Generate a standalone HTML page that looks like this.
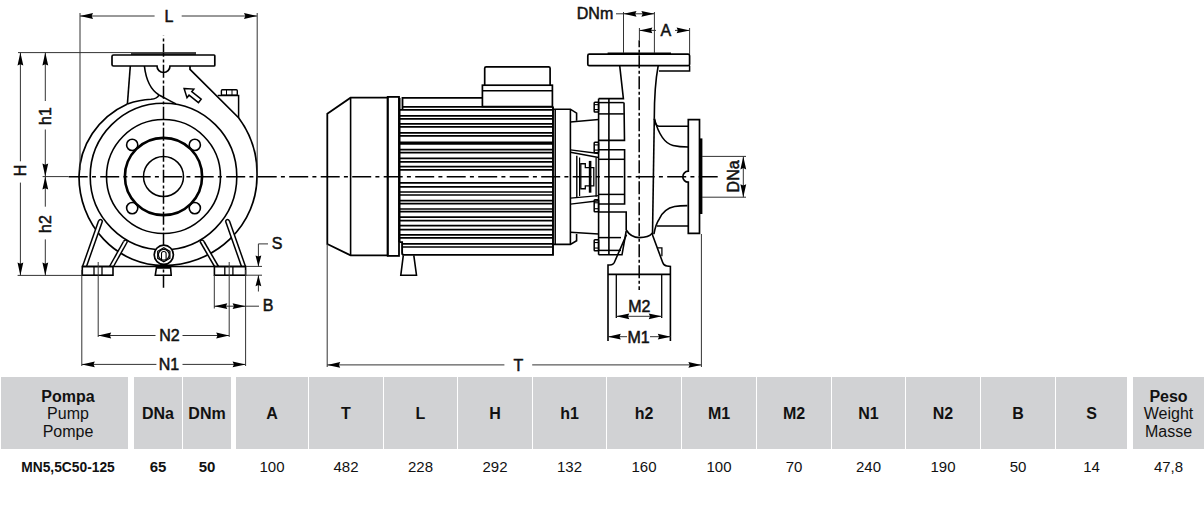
<!DOCTYPE html>
<html><head><meta charset="utf-8"><style>
html,body{margin:0;padding:0;background:#fff;}
body{width:1204px;height:529px;position:relative;overflow:hidden;font-family:"Liberation Sans",sans-serif;}
svg{position:absolute;left:0;top:0;}
svg text{font-family:"Liberation Sans",sans-serif;}
.hc{position:absolute;top:377px;height:72px;background:#d1d2d4;}
.ht{position:absolute;top:378px;height:72px;line-height:72px;text-align:center;font-weight:bold;font-size:16px;color:#111;}
.ht3{position:absolute;top:387.7px;text-align:center;font-size:16px;line-height:17.7px;color:#111;}
.vt{position:absolute;top:456.5px;height:20px;line-height:20px;text-align:center;font-size:15px;color:#111;}
.vt.b{font-weight:bold;}
.vt.sm{font-size:13.8px;top:457.5px;}
</style></head><body>
<svg width="1204" height="529" viewBox="0 0 1204 529">
<line x1="68.7" y1="176.7" x2="719.5" y2="176.7" stroke="#000" stroke-width="1.6" stroke-dasharray="19 4.2 4 4.3"/>
<line x1="163.5" y1="35.6" x2="163.5" y2="288" stroke="#000" stroke-width="1.5" stroke-dasharray="13 2.6 3 2.4" stroke-dashoffset="12.8"/>
<line x1="639.2" y1="40.2" x2="639.2" y2="290" stroke="#000" stroke-width="1.5" stroke-dasharray="13 2.6 3 2.4" stroke-dashoffset="6"/>
<circle cx="163.5" cy="176.5" r="20" stroke="#000" stroke-width="1.5" fill="none"/>
<circle cx="163.5" cy="176.5" r="38.6" stroke="#000" stroke-width="2.6" fill="none"/>
<circle cx="163.5" cy="176.5" r="57" stroke="#000" stroke-width="1.6" fill="none"/>
<circle cx="163.5" cy="176.5" r="73.3" stroke="#000" stroke-width="1.6" fill="none"/>
<circle cx="132.2" cy="144.9" r="5.6" stroke="#000" stroke-width="1.6" fill="none"/>
<circle cx="132.2" cy="208.1" r="5.6" stroke="#000" stroke-width="1.6" fill="none"/>
<circle cx="194.8" cy="144.9" r="5.6" stroke="#000" stroke-width="1.6" fill="none"/>
<circle cx="194.8" cy="208.1" r="5.6" stroke="#000" stroke-width="1.6" fill="none"/>
<path d="M127.4,104 A84.5,81 0 0 0 79,176.5 A84.5,89 0 0 0 163.5,265.5 A93.5,89 0 0 0 257,176.5 A93.5,93.5 0 0 0 238.6,117.7 L190,69.3 L190,66" stroke="#000" stroke-width="1.7" fill="none" />
<line x1="130.3" y1="66" x2="127.4" y2="104" stroke="#000" stroke-width="1.6" />
<path d="M113.5,55 H214 Q214.8,55 214.8,55.8 V65.2 Q214.8,66 214,66 H170 A6.5,6.5 0 0 1 157,66 H113.5 Q112,66 112,64.5 V56.5 Q112,55 113.5,55 Z" stroke="#000" stroke-width="1.7" fill="none" />
<path d="M144.4,66 C146,80 151,90 159,95" stroke="#000" stroke-width="1.6" fill="none" />
<path d="M127.4,104 C136,101 146,99.5 151,99.3 C155,99 158,97 159,95" stroke="#000" stroke-width="1.6" fill="none" />
<path d="M159,95 C165,98 170,101 176,103.9" stroke="#000" stroke-width="1.6" fill="none" />
<polygon points="184.10,88.50 193.79,89.11 191.75,91.71 201.19,99.12 198.47,102.58 189.03,95.17 187.00,97.77" fill="#fff" stroke="#000" stroke-width="1.5"/>
<path d="M217.7,95.6 L238.6,95.6 L238.6,117.7" stroke="#000" stroke-width="1.5" fill="none" />
<rect x="221.4" y="89.8" width="15.9" height="5.5" rx="1" stroke="#000" stroke-width="1.4" fill="none"/>
<line x1="226.5" y1="89.8" x2="226.5" y2="95.3" stroke="#000" stroke-width="1.0" />
<line x1="232" y1="89.8" x2="232" y2="95.3" stroke="#000" stroke-width="1.0" />
<path d="M82.5,267.5 L98.5,221 Q100.5,218 102.5,221 L86.5,267.5 Z" fill="#fff" stroke="none"/>
<path d="M82.5,266.5 L98.5,221 " stroke="#000" stroke-width="1.5" fill="none" />
<path d="M86.5,266.5 L102.5,221" stroke="#000" stroke-width="1.5" fill="none" />
<path d="M98.5,221 Q100.5,218 102.5,221" stroke="#000" stroke-width="1.5" fill="none" />
<path d="M109.5,267.5 L123.5,241.5 Q125.5,238.5 127.5,241.5 L113.5,267.5 Z" fill="#fff" stroke="none"/>
<path d="M109.5,266.5 L123.5,241.5 " stroke="#000" stroke-width="1.5" fill="none" />
<path d="M113.5,266.5 L127.5,241.5" stroke="#000" stroke-width="1.5" fill="none" />
<path d="M123.5,241.5 Q125.5,238.5 127.5,241.5" stroke="#000" stroke-width="1.5" fill="none" />
<path d="M245.5,267.5 L229.5,221 Q227.5,218 225.5,221 L241.5,267.5 Z" fill="#fff" stroke="none"/>
<path d="M245.5,266.5 L229.5,221 " stroke="#000" stroke-width="1.5" fill="none" />
<path d="M241.5,266.5 L225.5,221" stroke="#000" stroke-width="1.5" fill="none" />
<path d="M229.5,221 Q227.5,218 225.5,221" stroke="#000" stroke-width="1.5" fill="none" />
<path d="M218.5,267.5 L204.0,241.5 Q202.0,238.5 200.0,241.5 L214.5,267.5 Z" fill="#fff" stroke="none"/>
<path d="M218.5,266.5 L204.0,241.5 " stroke="#000" stroke-width="1.5" fill="none" />
<path d="M214.5,266.5 L200.0,241.5" stroke="#000" stroke-width="1.5" fill="none" />
<path d="M204.0,241.5 Q202.0,238.5 200.0,241.5" stroke="#000" stroke-width="1.5" fill="none" />
<line x1="82" y1="266.5" x2="246" y2="266.5" stroke="#000" stroke-width="1.6" />
<rect x="82.3" y="266.5" width="30.7" height="8.7" rx="0" stroke="#000" stroke-width="1.6" fill="none"/>
<rect x="214.4" y="266.5" width="31.2" height="8.7" rx="0" stroke="#000" stroke-width="1.6" fill="none"/>
<line x1="94" y1="266.5" x2="94" y2="275.2" stroke="#000" stroke-width="1.3" />
<line x1="102" y1="266.5" x2="102" y2="275.2" stroke="#000" stroke-width="1.3" />
<line x1="224.8" y1="266.5" x2="224.8" y2="275.2" stroke="#000" stroke-width="1.3" />
<line x1="232.9" y1="266.5" x2="232.9" y2="275.2" stroke="#000" stroke-width="1.3" />
<circle cx="163.8" cy="254.8" r="9.6" stroke="#000" stroke-width="1.7" fill="#fff"/>
<polygon points="169.86,258.30 163.80,261.80 157.74,258.30 157.74,251.30 163.80,247.80 169.86,251.30" fill="none" stroke="#000" stroke-width="1.3"/>
<circle cx="163.8" cy="254.8" r="5.4" stroke="#000" stroke-width="1.2" fill="none"/>
<path d="M161.5,260.5 L161.5,253.5 Q161.5,251.5 163.8,251.5 Q166.1,251.5 166.1,253.5 L166.1,260.5" stroke="#000" stroke-width="1.1" fill="none" />
<path d="M156.4,267.9 L170.6,267.9 L171.2,275.2 L155.3,275.2 Z" stroke="#000" stroke-width="1.6" fill="none" />
<line x1="80" y1="16" x2="154.6" y2="16" stroke="#333" stroke-width="1" />
<line x1="181.7" y1="16" x2="257" y2="16" stroke="#333" stroke-width="1" />
<path d="M80.00,16.00 L93.00,13.10 L91.70,16.00 L93.00,18.90 Z" fill="#000" stroke="none"/>
<path d="M257.00,16.00 L244.00,18.90 L245.30,16.00 L244.00,13.10 Z" fill="#000" stroke="none"/>
<line x1="80" y1="13" x2="80" y2="170" stroke="#333" stroke-width="1" />
<line x1="257.2" y1="13" x2="257.2" y2="176" stroke="#333" stroke-width="1" />
<text x="169" y="21.6" font-size="16" font-weight="normal" text-anchor="middle" fill="#111" stroke="#111" stroke-width="0.5">L</text>
<line x1="18" y1="52.6" x2="196" y2="52.6" stroke="#333" stroke-width="1" />
<line x1="131" y1="54" x2="196" y2="54" stroke="#000" stroke-width="1.6" />
<line x1="17.6" y1="275.4" x2="82" y2="275.4" stroke="#333" stroke-width="1" />
<line x1="42.6" y1="176.6" x2="68.7" y2="176.6" stroke="#333" stroke-width="1" />
<line x1="20.4" y1="52.6" x2="20.4" y2="161.3" stroke="#333" stroke-width="1" />
<line x1="20.4" y1="182.6" x2="20.4" y2="275.4" stroke="#333" stroke-width="1" />
<path d="M20.40,52.60 L23.30,65.60 L20.40,64.30 L17.50,65.60 Z" fill="#000" stroke="none"/>
<path d="M20.40,275.40 L17.50,262.40 L20.40,263.70 L23.30,262.40 Z" fill="#000" stroke="none"/>
<text x="25.9" y="170.5" font-size="16" font-weight="normal" text-anchor="middle" fill="#111" stroke="#111" stroke-width="0.5" transform="rotate(-90 25.9 170.5)">H</text>
<line x1="45.3" y1="52.6" x2="45.3" y2="101" stroke="#333" stroke-width="1" />
<line x1="45.3" y1="129.5" x2="45.3" y2="176.5" stroke="#333" stroke-width="1" />
<path d="M45.30,52.60 L48.20,65.60 L45.30,64.30 L42.40,65.60 Z" fill="#000" stroke="none"/>
<path d="M45.30,176.50 L42.40,163.50 L45.30,164.80 L48.20,163.50 Z" fill="#000" stroke="none"/>
<text x="50.8" y="116" font-size="16" font-weight="normal" text-anchor="middle" fill="#111" stroke="#111" stroke-width="0.5" transform="rotate(-90 50.8 116)">h1</text>
<line x1="45.3" y1="176.5" x2="45.3" y2="206.7" stroke="#333" stroke-width="1" />
<line x1="45.3" y1="239.4" x2="45.3" y2="275.4" stroke="#333" stroke-width="1" />
<path d="M45.30,176.50 L48.20,189.50 L45.30,188.20 L42.40,189.50 Z" fill="#000" stroke="none"/>
<path d="M45.30,275.40 L42.40,262.40 L45.30,263.70 L48.20,262.40 Z" fill="#000" stroke="none"/>
<text x="50.8" y="224" font-size="16" font-weight="normal" text-anchor="middle" fill="#111" stroke="#111" stroke-width="0.5" transform="rotate(-90 50.8 224)">h2</text>
<line x1="81.8" y1="270" x2="81.8" y2="366" stroke="#333" stroke-width="1" />
<line x1="245.6" y1="270" x2="245.6" y2="366" stroke="#333" stroke-width="1" />
<line x1="81.8" y1="364.4" x2="156.4" y2="364.4" stroke="#333" stroke-width="1" />
<line x1="182.5" y1="364.4" x2="245.6" y2="364.4" stroke="#333" stroke-width="1" />
<path d="M81.80,364.40 L94.80,361.50 L93.50,364.40 L94.80,367.30 Z" fill="#000" stroke="none"/>
<path d="M245.60,364.40 L232.60,367.30 L233.90,364.40 L232.60,361.50 Z" fill="#000" stroke="none"/>
<text x="169" y="369.6" font-size="16" font-weight="normal" text-anchor="middle" fill="#111" stroke="#111" stroke-width="0.5">N1</text>
<line x1="98.2" y1="262" x2="98.2" y2="337" stroke="#333" stroke-width="1" />
<line x1="229.2" y1="262" x2="229.2" y2="337" stroke="#333" stroke-width="1" />
<line x1="98.2" y1="335.5" x2="155.5" y2="335.5" stroke="#333" stroke-width="1" />
<line x1="182.5" y1="335.5" x2="229.2" y2="335.5" stroke="#333" stroke-width="1" />
<path d="M98.20,335.50 L111.20,332.60 L109.90,335.50 L111.20,338.40 Z" fill="#000" stroke="none"/>
<path d="M229.20,335.50 L216.20,338.40 L217.50,335.50 L216.20,332.60 Z" fill="#000" stroke="none"/>
<text x="169.5" y="341" font-size="16" font-weight="normal" text-anchor="middle" fill="#111" stroke="#111" stroke-width="0.5">N2</text>
<line x1="214.3" y1="275" x2="214.3" y2="308.5" stroke="#333" stroke-width="1" />
<line x1="214.3" y1="306.2" x2="259" y2="306.2" stroke="#333" stroke-width="1" />
<path d="M214.30,306.20 L227.30,303.30 L226.00,306.20 L227.30,309.10 Z" fill="#000" stroke="none"/>
<path d="M245.60,306.20 L232.60,309.10 L233.90,306.20 L232.60,303.30 Z" fill="#000" stroke="none"/>
<text x="268.2" y="311" font-size="16" font-weight="normal" text-anchor="middle" fill="#111" stroke="#111" stroke-width="0.5">B</text>
<line x1="246" y1="266.4" x2="262" y2="266.4" stroke="#333" stroke-width="1" />
<line x1="246" y1="275.2" x2="262" y2="275.2" stroke="#333" stroke-width="1" />
<line x1="258.4" y1="243.9" x2="258.4" y2="266.4" stroke="#333" stroke-width="1" />
<line x1="258.4" y1="275.2" x2="258.4" y2="291.5" stroke="#333" stroke-width="1" />
<line x1="258.4" y1="243.9" x2="268" y2="243.9" stroke="#333" stroke-width="1" />
<path d="M258.40,266.40 L255.50,255.40 L258.40,256.50 L261.30,255.40 Z" fill="#000" stroke="none"/>
<path d="M258.40,275.20 L261.30,286.20 L258.40,285.10 L255.50,286.20 Z" fill="#000" stroke="none"/>
<text x="277.2" y="248.6" font-size="16" font-weight="normal" text-anchor="middle" fill="#111" stroke="#111" stroke-width="0.5">S</text>
<path d="M327.3,244 L327.3,113.8 L350.6,97.7 L387.7,97.7 L387.7,255.4 L350.6,255.4 Z" stroke="#000" stroke-width="1.8" fill="none" />
<line x1="350.6" y1="97.7" x2="350.6" y2="255.4" stroke="#000" stroke-width="1.6" />
<rect x="387.7" y="96.9" width="11.3" height="159" rx="0" stroke="#000" stroke-width="1.8" fill="none"/>
<line x1="399.4" y1="97.9" x2="399.4" y2="242.1" stroke="#000" stroke-width="2.2" />
<path d="M399.4,242.1 H402.1 V253 Q402.1,254.9 404,254.9 H553 V106.4" stroke="#000" stroke-width="1.9" fill="none" />
<path d="M402.5,110 V97.9 H482.4" stroke="#000" stroke-width="1.8" fill="none" />
<line x1="402.5" y1="106.8" x2="553" y2="106.8" stroke="#000" stroke-width="1.7" />
<line x1="399.4" y1="109.8" x2="553" y2="109.8" stroke="#000" stroke-width="1.7" />
<line x1="399.4" y1="115.9" x2="553" y2="115.9" stroke="#000" stroke-width="1.7" />
<line x1="399.4" y1="118.9" x2="553" y2="118.9" stroke="#000" stroke-width="1.7" />
<line x1="399.4" y1="123.8" x2="553" y2="123.8" stroke="#000" stroke-width="1.7" />
<line x1="399.4" y1="126.8" x2="553" y2="126.8" stroke="#000" stroke-width="1.7" />
<line x1="399.4" y1="132.9" x2="553" y2="132.9" stroke="#000" stroke-width="1.7" />
<line x1="399.4" y1="135.9" x2="553" y2="135.9" stroke="#000" stroke-width="1.7" />
<line x1="399.4" y1="149.7" x2="553" y2="149.7" stroke="#000" stroke-width="1.7" />
<line x1="399.4" y1="152.7" x2="553" y2="152.7" stroke="#000" stroke-width="1.7" />
<line x1="399.4" y1="158.4" x2="553" y2="158.4" stroke="#000" stroke-width="1.7" />
<line x1="399.4" y1="161.8" x2="553" y2="161.8" stroke="#000" stroke-width="1.7" />
<line x1="399.4" y1="166.7" x2="553" y2="166.7" stroke="#000" stroke-width="1.7" />
<line x1="399.4" y1="169.8" x2="553" y2="169.8" stroke="#000" stroke-width="1.7" />
<line x1="399.4" y1="182.9" x2="553" y2="182.9" stroke="#000" stroke-width="1.7" />
<line x1="399.4" y1="186.9" x2="553" y2="186.9" stroke="#000" stroke-width="1.7" />
<line x1="399.4" y1="192" x2="553" y2="192" stroke="#000" stroke-width="1.7" />
<line x1="399.4" y1="195" x2="553" y2="195" stroke="#000" stroke-width="1.7" />
<line x1="399.4" y1="200.7" x2="553" y2="200.7" stroke="#000" stroke-width="1.7" />
<line x1="399.4" y1="203.7" x2="553" y2="203.7" stroke="#000" stroke-width="1.7" />
<line x1="399.4" y1="209" x2="553" y2="209" stroke="#000" stroke-width="1.7" />
<line x1="399.4" y1="211.6" x2="553" y2="211.6" stroke="#000" stroke-width="1.7" />
<line x1="399.4" y1="217.1" x2="553" y2="217.1" stroke="#000" stroke-width="1.7" />
<line x1="399.4" y1="220.6" x2="553" y2="220.6" stroke="#000" stroke-width="1.7" />
<line x1="399.4" y1="225.6" x2="553" y2="225.6" stroke="#000" stroke-width="1.7" />
<line x1="399.4" y1="229.7" x2="553" y2="229.7" stroke="#000" stroke-width="1.7" />
<line x1="399.4" y1="234.8" x2="553" y2="234.8" stroke="#000" stroke-width="1.7" />
<line x1="399.4" y1="237.9" x2="553" y2="237.9" stroke="#000" stroke-width="1.7" />
<line x1="402.1" y1="243.9" x2="553" y2="243.9" stroke="#000" stroke-width="1.7" />
<line x1="402.1" y1="247" x2="553" y2="247" stroke="#000" stroke-width="1.7" />
<line x1="399.4" y1="143.1" x2="553" y2="143.1" stroke="#000" stroke-width="3.2" />
<path d="M403.3,255.4 L400.8,275.2 L416.5,275.2 L413.8,255.4" stroke="#000" stroke-width="1.6" fill="none" />
<rect x="482.4" y="85.2" width="70" height="21.4" rx="0" stroke="#000" stroke-width="1.7" fill="none"/>
<line x1="482.4" y1="90.8" x2="552.4" y2="90.8" stroke="#000" stroke-width="1.5" />
<path d="M484.7,85.2 L484.7,68.3 Q484.7,66.8 486.2,66.8 L548.6,66.8 Q550.1,66.8 550.1,68.3 L550.1,85.2" stroke="#000" stroke-width="1.7" fill="none" />
<line x1="555.2" y1="109.2" x2="555.2" y2="244.4" stroke="#000" stroke-width="1.5" />
<path d="M553,109.2 L570.4,109.2 L576.6,113.2 L576.6,120.8 M570.4,109.2 L570.4,244.4 M576.6,234 L576.6,240.7 L570.4,244.4 L553,244.4" stroke="#000" stroke-width="1.6" fill="none" />
<line x1="570.4" y1="121.9" x2="598.6" y2="119.4" stroke="#000" stroke-width="1.5" />
<line x1="570.4" y1="149.9" x2="598.6" y2="153.5" stroke="#000" stroke-width="1.4" />
<line x1="570.4" y1="152.2" x2="598.6" y2="157.5" stroke="#000" stroke-width="1.4" />
<line x1="570.4" y1="198.1" x2="598.6" y2="195.6" stroke="#000" stroke-width="1.4" />
<line x1="570.4" y1="204.1" x2="598.6" y2="200.7" stroke="#000" stroke-width="1.4" />
<line x1="570.4" y1="232.2" x2="598.6" y2="233.9" stroke="#000" stroke-width="1.5" />
<line x1="576.8" y1="155.8" x2="576.8" y2="197.3" stroke="#000" stroke-width="1.4" />
<line x1="579.6" y1="157.5" x2="579.6" y2="196.1" stroke="#000" stroke-width="1.2" />
<path d="M580.8,163.75 H585.3 V167.7 H593.8 V185.9 H585.3 V188.75 H580.8 Z" stroke="#000" stroke-width="1.3" fill="none" />
<line x1="590.1" y1="160.9" x2="590.1" y2="192.7" stroke="#000" stroke-width="2.6" />
<line x1="596.1" y1="157.5" x2="596.1" y2="196.7" stroke="#000" stroke-width="1.3" />
<line x1="598.6" y1="98.6" x2="598.6" y2="254.8" stroke="#000" stroke-width="1.6" />
<line x1="608.9" y1="98.6" x2="608.9" y2="254.8" stroke="#000" stroke-width="1.6" />
<path d="M598.6,98.6 L623.4,98.6 L619.7,65.7" stroke="#000" stroke-width="1.6" fill="none" />
<path d="M598.6,140.4 L624.5,140.4 L624,102.6" stroke="#000" stroke-width="1.6" fill="none" />
<line x1="598.6" y1="102.6" x2="623.8" y2="102.6" stroke="#000" stroke-width="1.5" />
<line x1="598.6" y1="113.9" x2="623.8" y2="113.9" stroke="#000" stroke-width="1.5" />
<path d="M598.6,149.8 L624.6,149.8 L624.6,204 L598.6,204" stroke="#000" stroke-width="1.6" fill="none" />
<line x1="598.6" y1="159.3" x2="624.6" y2="159.3" stroke="#000" stroke-width="1.5" />
<line x1="598.6" y1="194.4" x2="624.6" y2="194.4" stroke="#000" stroke-width="1.5" />
<path d="M598.6,212 L626.2,212 L626.2,230" stroke="#000" stroke-width="1.6" fill="none" />
<line x1="598.6" y1="237.6" x2="621" y2="237.6" stroke="#000" stroke-width="1.5" />
<line x1="598.6" y1="250.4" x2="621" y2="250.4" stroke="#000" stroke-width="1.5" />
<path d="M626.2,231 L622,254.8 L598.6,254.8" stroke="#000" stroke-width="1.6" fill="none" />
<rect x="594.2" y="102.2" width="4.4" height="9.799999999999997" rx="0.8" stroke="#000" stroke-width="1.5" fill="none"/>
<line x1="594.2" y1="104.65" x2="598.6" y2="104.65" stroke="#000" stroke-width="1.1" />
<line x1="594.2" y1="109.55" x2="598.6" y2="109.55" stroke="#000" stroke-width="1.1" />
<rect x="594.2" y="142.3" width="4.4" height="10.399999999999977" rx="0.8" stroke="#000" stroke-width="1.5" fill="none"/>
<line x1="594.2" y1="144.9" x2="598.6" y2="144.9" stroke="#000" stroke-width="1.1" />
<line x1="594.2" y1="150.1" x2="598.6" y2="150.1" stroke="#000" stroke-width="1.1" />
<rect x="594.2" y="199.8" width="4.4" height="11.899999999999977" rx="0.8" stroke="#000" stroke-width="1.5" fill="none"/>
<line x1="594.2" y1="202.775" x2="598.6" y2="202.775" stroke="#000" stroke-width="1.1" />
<line x1="594.2" y1="208.725" x2="598.6" y2="208.725" stroke="#000" stroke-width="1.1" />
<rect x="594.2" y="239.8" width="4.4" height="11.0" rx="0.8" stroke="#000" stroke-width="1.5" fill="none"/>
<line x1="594.2" y1="242.55" x2="598.6" y2="242.55" stroke="#000" stroke-width="1.1" />
<line x1="594.2" y1="248.05" x2="598.6" y2="248.05" stroke="#000" stroke-width="1.1" />
<path d="M607.6,53.6 L671,53.6" stroke="#000" stroke-width="2.2" fill="none" />
<rect x="587.8" y="54.2" width="101.8" height="11.5" rx="1.5" stroke="#000" stroke-width="1.7" fill="none"/>
<path d="M659,70.9 L689.6,70.9 L689.6,65.7" stroke="#000" stroke-width="1.5" fill="none" />
<path d="M658.2,65.7 C655.5,80 654.3,95 654.3,118.6" stroke="#000" stroke-width="1.6" fill="none" />
<path d="M654.3,118.6 C655,123 656,126.2 659,126.2 L688.3,126.2" stroke="#000" stroke-width="1.6" fill="none" />
<path d="M654.3,118.6 C658,132 663,143 673,145.5 C678,146.7 683,147 688.3,147" stroke="#000" stroke-width="1.6" fill="none" />
<line x1="654.3" y1="118.6" x2="652.5" y2="235" stroke="#000" stroke-width="1.6" />
<path d="M626.2,230 C630,236 635,237.6 639.2,237.6 C644,237.6 650,236 652.5,233" stroke="#000" stroke-width="1.7" fill="none" />
<path d="M653.9,234.2 C655,228 657,222 659.3,218.9 C662,213 667,208 674.6,206.5 C678,205.9 683,205.6 687.4,205.6" stroke="#000" stroke-width="1.6" fill="none" />
<line x1="656.8" y1="226" x2="688.3" y2="226" stroke="#000" stroke-width="1.6" />
<path d="M688.3,119.6 H699.5 V233.4 H688.3 V182.2 A5.5,5.5 0 0 1 688.3,171.2 Z" stroke="#000" stroke-width="1.7" fill="none" />
<line x1="701.2" y1="138.4" x2="701.2" y2="214" stroke="#000" stroke-width="2.4" />
<path d="M626.5,234.6 L614.3,262.5 Q613,265 610,265 L608,265 L608,341" stroke="#000" stroke-width="1.6" fill="none" />
<path d="M652.5,235 L662.7,262.5 Q664,266 667,266 L670.4,266.5 L670.4,341" stroke="#000" stroke-width="1.6" fill="none" />
<line x1="608" y1="274.4" x2="670.4" y2="274.4" stroke="#000" stroke-width="1.6" />
<line x1="616.3" y1="274.4" x2="616.3" y2="318" stroke="#000" stroke-width="1.3" />
<line x1="661.7" y1="274.4" x2="661.7" y2="318" stroke="#000" stroke-width="1.3" />
<path d="M657.6,247.8 L661.9,247.8 L661.9,256.3" stroke="#000" stroke-width="1.3" fill="none" />
<text x="595" y="19" font-size="16" font-weight="normal" text-anchor="middle" fill="#111" stroke="#111" stroke-width="0.5">DNm</text>
<line x1="616" y1="13.8" x2="654.4" y2="13.8" stroke="#333" stroke-width="1" />
<line x1="623.5" y1="12" x2="623.5" y2="53" stroke="#333" stroke-width="1" />
<line x1="654.4" y1="12" x2="654.4" y2="53" stroke="#333" stroke-width="1" />
<path d="M623.50,13.80 L636.50,10.90 L635.20,13.80 L636.50,16.70 Z" fill="#000" stroke="none"/>
<path d="M654.40,13.80 L641.40,16.70 L642.70,13.80 L641.40,10.90 Z" fill="#000" stroke="none"/>
<line x1="639.4" y1="30.4" x2="656" y2="30.4" stroke="#333" stroke-width="1" />
<line x1="675" y1="30.4" x2="689.6" y2="30.4" stroke="#333" stroke-width="1" />
<line x1="639.4" y1="28" x2="639.4" y2="40" stroke="#333" stroke-width="1" />
<line x1="689.6" y1="28" x2="689.6" y2="54" stroke="#333" stroke-width="1" />
<path d="M639.40,30.40 L652.40,27.50 L651.10,30.40 L652.40,33.30 Z" fill="#000" stroke="none"/>
<path d="M689.60,30.40 L676.60,33.30 L677.90,30.40 L676.60,27.50 Z" fill="#000" stroke="none"/>
<text x="665.8" y="36" font-size="16" font-weight="normal" text-anchor="middle" fill="#111" stroke="#111" stroke-width="0.5">A</text>
<line x1="702" y1="156.4" x2="746" y2="156.4" stroke="#333" stroke-width="1" />
<line x1="702" y1="197.2" x2="746" y2="197.2" stroke="#333" stroke-width="1" />
<line x1="743.3" y1="156.4" x2="743.3" y2="197.2" stroke="#333" stroke-width="1" />
<path d="M743.30,156.40 L746.20,169.40 L743.30,168.10 L740.40,169.40 Z" fill="#000" stroke="none"/>
<path d="M743.30,197.20 L740.40,184.20 L743.30,185.50 L746.20,184.20 Z" fill="#000" stroke="none"/>
<text x="738.6" y="176.4" font-size="16" font-weight="normal" text-anchor="middle" fill="#111" stroke="#111" stroke-width="0.5" transform="rotate(-90 738.6 176.4)">DNa</text>
<line x1="616.3" y1="316.3" x2="661.7" y2="316.3" stroke="#333" stroke-width="1" />
<path d="M616.30,316.30 L629.30,313.40 L628.00,316.30 L629.30,319.20 Z" fill="#000" stroke="none"/>
<path d="M661.70,316.30 L648.70,319.20 L650.00,316.30 L648.70,313.40 Z" fill="#000" stroke="none"/>
<text x="639.3" y="311.7" font-size="16" font-weight="normal" text-anchor="middle" fill="#111" stroke="#111" stroke-width="0.5">M2</text>
<line x1="607.8" y1="336.7" x2="627" y2="336.7" stroke="#333" stroke-width="1" />
<line x1="650" y1="336.7" x2="670.8" y2="336.7" stroke="#333" stroke-width="1" />
<path d="M607.80,336.70 L620.80,333.80 L619.50,336.70 L620.80,339.60 Z" fill="#000" stroke="none"/>
<path d="M670.80,336.70 L657.80,339.60 L659.10,336.70 L657.80,333.80 Z" fill="#000" stroke="none"/>
<text x="638.5" y="343" font-size="16" font-weight="normal" text-anchor="middle" fill="#111" stroke="#111" stroke-width="0.5">M1</text>
<line x1="327.2" y1="244" x2="327.2" y2="367" stroke="#333" stroke-width="1" />
<line x1="701.4" y1="234" x2="701.4" y2="367" stroke="#333" stroke-width="1" />
<line x1="327.2" y1="364.9" x2="504.4" y2="364.9" stroke="#333" stroke-width="1" />
<line x1="532.2" y1="364.9" x2="701.4" y2="364.9" stroke="#333" stroke-width="1" />
<path d="M327.20,364.90 L340.20,362.00 L338.90,364.90 L340.20,367.80 Z" fill="#000" stroke="none"/>
<path d="M701.40,364.90 L688.40,367.80 L689.70,364.90 L688.40,362.00 Z" fill="#000" stroke="none"/>
<text x="518.3" y="371" font-size="16" font-weight="normal" text-anchor="middle" fill="#111" stroke="#111" stroke-width="0.5">T</text>
</svg>
<div class="hc" style="left:1px;width:127px"></div>
<div class="ht3" style="left:4.5px;width:127px"><b>Pompa</b><br>Pump<br>Pompe</div>
<div class="vt b sm" style="left:4.5px;width:127px">MN5,5C50-125</div>
<div class="hc" style="left:134px;width:48px"></div>
<div class="ht" style="left:134px;width:48px">DNa</div>
<div class="vt b" style="left:134px;width:48px">65</div>
<div class="hc" style="left:183px;width:48px"></div>
<div class="ht" style="left:183px;width:48px">DNm</div>
<div class="vt b" style="left:183px;width:48px">50</div>
<div class="hc" style="left:236px;width:72px"></div>
<div class="ht" style="left:236px;width:72px">A</div>
<div class="vt" style="left:236px;width:72px">100</div>
<div class="hc" style="left:309px;width:74px"></div>
<div class="ht" style="left:309px;width:74px">T</div>
<div class="vt" style="left:309px;width:74px">482</div>
<div class="hc" style="left:384px;width:73px"></div>
<div class="ht" style="left:384px;width:73px">L</div>
<div class="vt" style="left:384px;width:73px">228</div>
<div class="hc" style="left:458px;width:74px"></div>
<div class="ht" style="left:458px;width:74px">H</div>
<div class="vt" style="left:458px;width:74px">292</div>
<div class="hc" style="left:533px;width:73px"></div>
<div class="ht" style="left:533px;width:73px">h1</div>
<div class="vt" style="left:533px;width:73px">132</div>
<div class="hc" style="left:607px;width:74px"></div>
<div class="ht" style="left:607px;width:74px">h2</div>
<div class="vt" style="left:607px;width:74px">160</div>
<div class="hc" style="left:682px;width:74px"></div>
<div class="ht" style="left:682px;width:74px">M1</div>
<div class="vt" style="left:682px;width:74px">100</div>
<div class="hc" style="left:757px;width:74px"></div>
<div class="ht" style="left:757px;width:74px">M2</div>
<div class="vt" style="left:757px;width:74px">70</div>
<div class="hc" style="left:832px;width:73px"></div>
<div class="ht" style="left:832px;width:73px">N1</div>
<div class="vt" style="left:832px;width:73px">240</div>
<div class="hc" style="left:906px;width:74px"></div>
<div class="ht" style="left:906px;width:74px">N2</div>
<div class="vt" style="left:906px;width:74px">190</div>
<div class="hc" style="left:981px;width:74px"></div>
<div class="ht" style="left:981px;width:74px">B</div>
<div class="vt" style="left:981px;width:74px">50</div>
<div class="hc" style="left:1056px;width:71px"></div>
<div class="ht" style="left:1056px;width:71px">S</div>
<div class="vt" style="left:1056px;width:71px">14</div>
<div class="hc" style="left:1133px;width:71px"></div>
<div class="ht3" style="left:1133px;width:71px"><b>Peso</b><br>Weight<br>Masse</div>
<div class="vt" style="left:1133px;width:71px">47,8</div>
</body></html>
